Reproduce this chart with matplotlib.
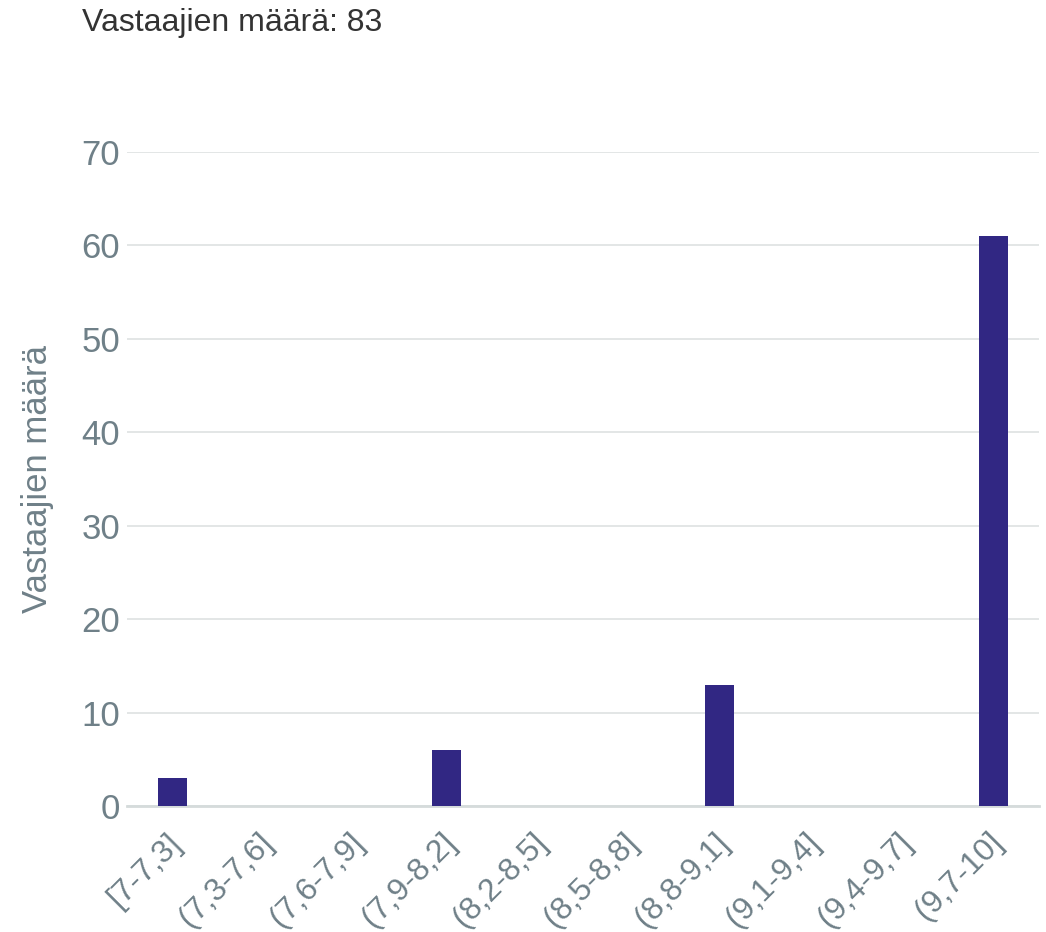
import matplotlib.pyplot as plt
import matplotlib.transforms as mtransforms

plt.rcParams['font.family'] = ['Liberation Sans', 'DejaVu Sans']

categories = ['[7-7,3]', '(7,3-7,6]', '(7,6-7,9]', '(7,9-8,2]', '(8,2-8,5]',
              '(8,5-8,8]', '(8,8-9,1]', '(9,1-9,4]', '(9,4-9,7]', '(9,7-10]']
counts = [3, 0, 0, 6, 0, 0, 13, 0, 0, 61]
yticks = [0, 10, 20, 30, 40, 50, 60, 70]

tick_color = '#6f8088'
bar_color = '#312783'

fig = plt.figure(figsize=(10.46, 9.32), dpi=100)
ax = fig.add_axes([0.1214, 0.1352, 0.8719, 0.7017])

x = list(range(len(categories)))
ax.bar(x, counts, width=0.32, color=bar_color, zorder=3)

ax.set_xlim(-0.5, 9.5)
ax.set_ylim(0, 70)
ax.set_yticks(yticks)
ax.yaxis.grid(True, color='#e0e4e4', linewidth=1.3, zorder=0)
for s in ['top', 'right', 'left']:
    ax.spines[s].set_visible(False)
ax.spines['bottom'].set_color('#d5dbdb')
ax.spines['bottom'].set_linewidth(2)
ax.tick_params(axis='both', length=0, labelsize=25, colors=tick_color)
ax.tick_params(axis='y', pad=5)
ax.set_xticks(x)
ax.set_xticklabels(categories, rotation=45, ha='right', va='center',
                   rotation_mode='anchor', fontsize=23)
ax.tick_params(axis='x', pad=23)
# nudge the rotated labels a little to the right
offset = mtransforms.ScaledTranslation(0.05, 0, fig.dpi_scale_trans)
for lbl in ax.get_xticklabels():
    lbl.set_transform(lbl.get_transform() + offset)
ax.set_ylabel('Vastaajien määrä', fontsize=25, color=tick_color, labelpad=20)

fig.text(0.0784, 0.975, 'Vastaajien määrä: 83', fontsize=23, color='#333333',
         ha='left', va='center')

fig.savefig('out.png', dpi=100)
